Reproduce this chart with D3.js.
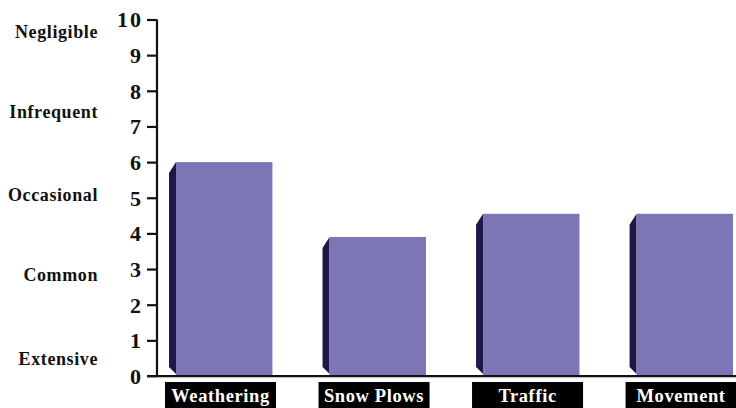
<!DOCTYPE html>
<html>
<head>
<meta charset="utf-8">
<script src="https://cdn.jsdelivr.net/npm/d3@7"></script>
<style>
  html, body { margin: 0; padding: 0; background: #fff; }
  svg { display: block; }
  text { font-family: "Liberation Serif", "Times New Roman", serif; font-weight: bold; fill: #111; }
</style>
</head>
<body>
<svg id="chart" width="736" height="408"></svg>
<script>
// Impact frequency per damage source (0 = extensive ... 10 = negligible)
const categories = ["Weathering", "Snow Plows", "Traffic", "Movement"];
const values = [6.0, 3.9, 4.55, 4.55];
const yTicks = [0, 1, 2, 3, 4, 5, 6, 7, 8, 9, 10];
const ratingLabels = ["Negligible", "Infrequent", "Occasional", "Common", "Extensive"];
const ratingLevels = [9.48, 7.24, 4.91, 2.66, 0.31];

const svg = d3.select("#chart");
const W = 736, H = 408;

const y = d3.scaleLinear().domain([0, 10]).range([376, 19.5]);
const x = d3.scaleBand().domain(categories)
  .range([149, 760]).paddingInner(0.372).paddingOuter(0.176);

const axisX = 157;
const depth = 7;     // width of the shaded side face
const front = "#7c76b6";
const side = "#1f1748";

// Bars: dark bevelled side face plus flat front face
const bars = svg.append("g").selectAll("g").data(categories).join("g");
bars.append("path")
  .attr("fill", side)
  .attr("d", (d, i) => {
    const x0 = x(d), top = y(values[i]), bot = y(0) - 2;
    return `M${x0},${top} L${x0 - depth},${top + 11} L${x0 - depth},${bot - 7} L${x0},${bot} Z`;
  });
bars.append("rect")
  .attr("fill", front)
  .attr("x", d => x(d))
  .attr("y", (d, i) => y(values[i]))
  .attr("width", x.bandwidth())
  .attr("height", (d, i) => y(0) - 1 - y(values[i]));

// Vertical axis with numeric ticks
const yAxis = svg.append("g")
  .attr("transform", `translate(${axisX},0)`)
  .call(d3.axisLeft(y).tickValues(yTicks).tickSize(10).tickPadding(4).tickFormat(d3.format("d")));
yAxis.select(".domain").attr("stroke", "#111").attr("stroke-width", 2.2)
  .attr("d", `M0,${y(10)}V${y(0)}`);
yAxis.selectAll(".tick line").attr("stroke", "#111").attr("stroke-width", 2.2);
yAxis.selectAll(".tick text")
  .attr("fill", "#111")
  .style("font-family", "'Liberation Serif', serif")
  .style("font-weight", "bold")
  .style("font-size", "22px")
  .style("letter-spacing", "2px")
  .attr("dy", "0.34em");

// Baseline
svg.append("line")
  .attr("x1", axisX - 10).attr("x2", W)
  .attr("y1", y(0)).attr("y2", y(0))
  .attr("stroke", "#111").attr("stroke-width", 2.2);
svg.append("line")
  .attr("x1", axisX - 10).attr("x2", W)
  .attr("y1", y(0) + 1.6).attr("y2", y(0) + 1.6)
  .attr("stroke", "#aaa").attr("stroke-width", 0.8);

// Qualitative rating labels
svg.append("g").selectAll("text").data(ratingLabels).join("text")
  .attr("x", 98)
  .attr("y", (d, i) => y(ratingLevels[i]))
  .attr("text-anchor", "end")
  .style("font-size", "18px")
  .style("letter-spacing", "0.6px")
  .text(d => d);

// Category labels in black boxes
const lab = svg.append("g").selectAll("g").data(categories).join("g");
lab.append("rect")
  .attr("x", d => x(d) - 11)
  .attr("y", 382)
  .attr("width", 111)
  .attr("height", 26)
  .attr("fill", "#000");
lab.append("text")
  .attr("x", d => x(d) - 11 + 55.5)
  .attr("y", 401.5)
  .attr("text-anchor", "middle")
  .style("fill", "#fff")
  .style("font-size", "18.5px")
  .style("letter-spacing", "0.6px")
  .text(d => d);
</script>
</body>
</html>
